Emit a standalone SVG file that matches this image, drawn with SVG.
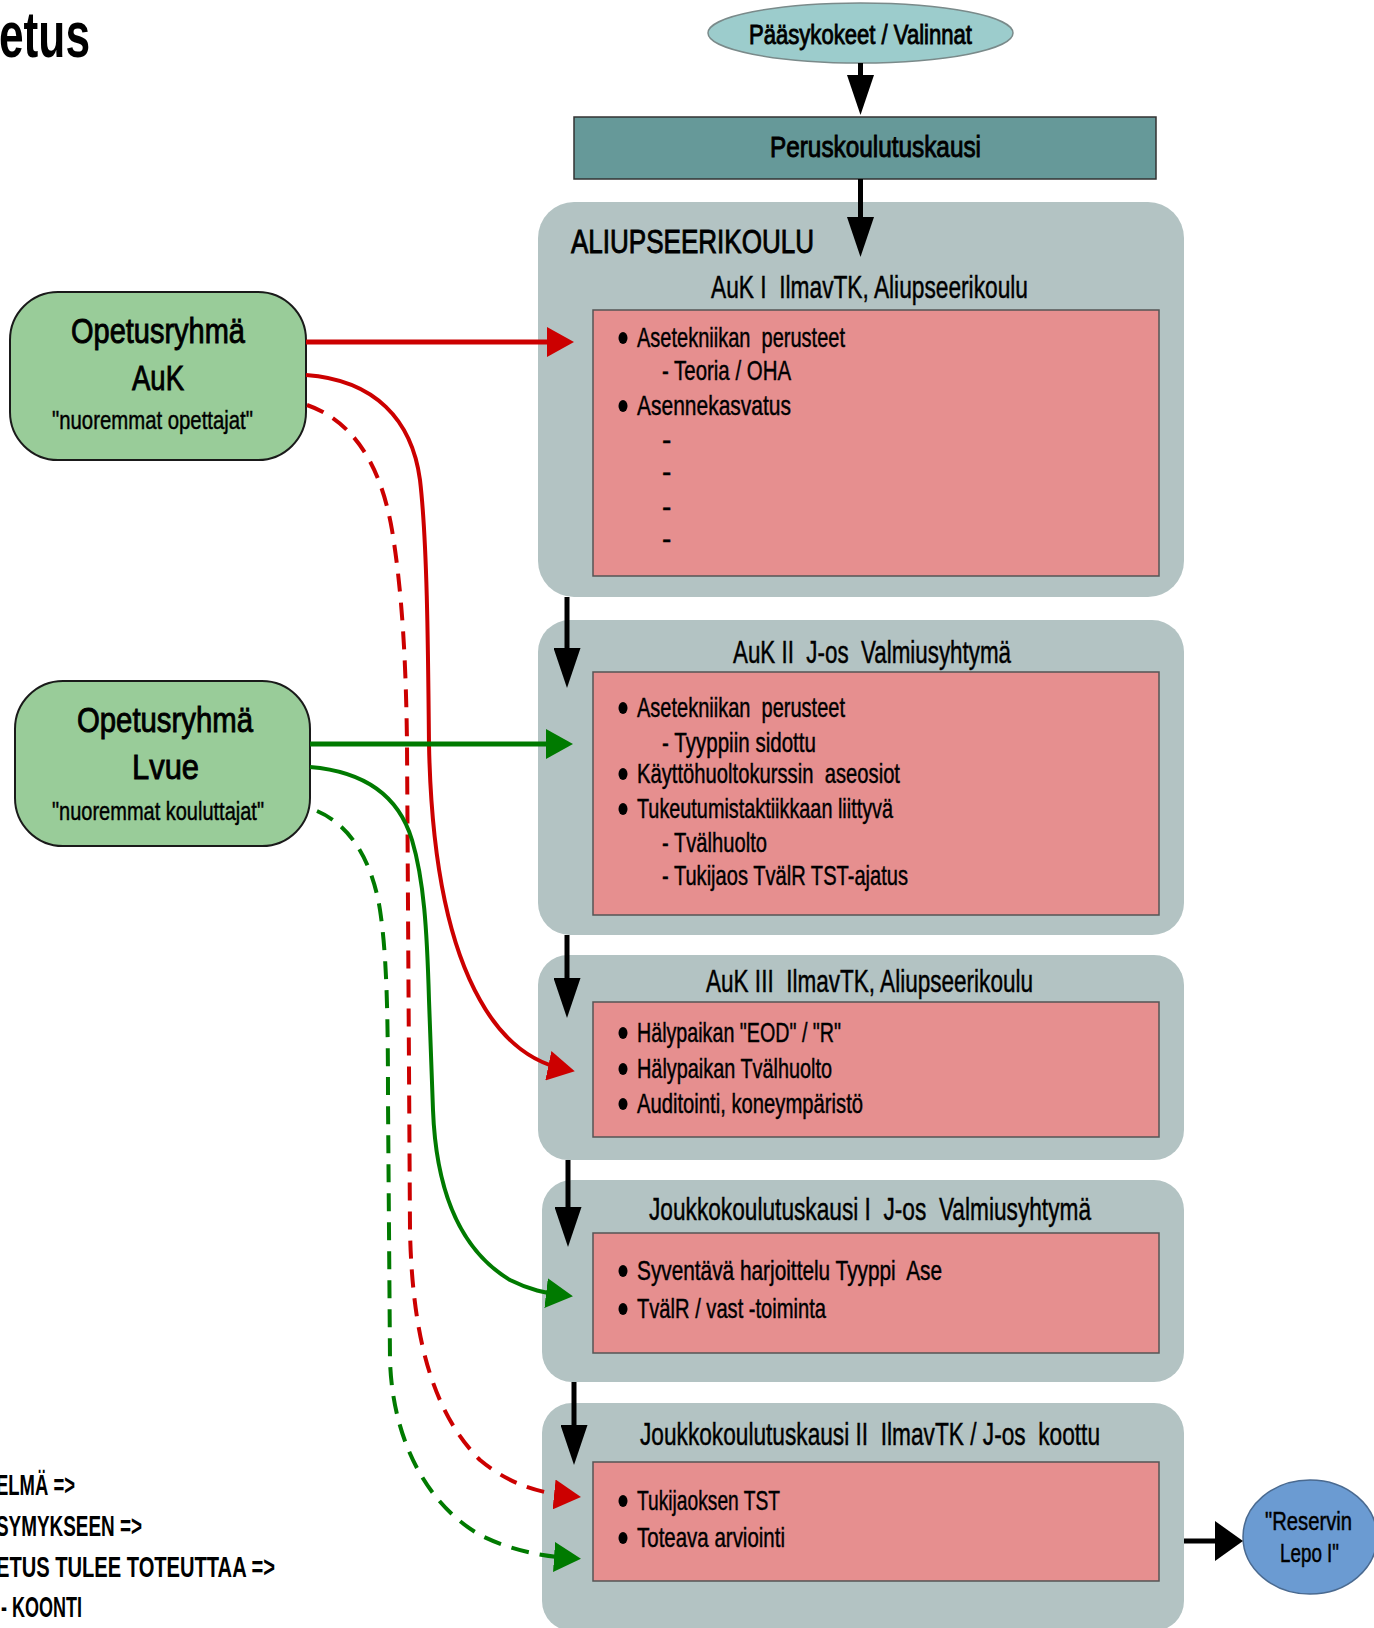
<svg xmlns="http://www.w3.org/2000/svg" width="1374" height="1628" viewBox="0 0 1374 1628">
  <style>
    text { font-family: "Liberation Sans Narrow", "Liberation Sans", Arial, sans-serif; fill: #000; stroke: #000; stroke-width: 0.45; }
    .t-head { font-size: 31px; }
    .t-item { font-size: 28px; }
    .t-big { font-size: 33px; }
    .t-grp { font-size: 35px; }
    .t-sub { font-size: 26px; }
    .t-bold { font-weight: bold; stroke-width: 0; }
    .t-heavy { stroke-width: 0.9; }
    .stage { fill: #b3c3c3; }
    .content { fill: #e68f8f; stroke: #555; stroke-width: 1.5; }
    .group { fill: #99cc99; stroke: #1a1a1a; stroke-width: 2; }
    .dot { fill: #000; }
    .flow { fill: none; stroke: #000; stroke-width: 5; }
    .red { fill: none; stroke: #cc0000; }
    .green { fill: none; stroke: #007a00; }
    .solid { stroke-width: 5; }
    .curve { stroke-width: 4; }
    .dash { stroke-width: 4; stroke-dasharray: 18 11; }
  </style>
  <defs>
    <marker id="head-black" viewBox="0 0 40 27" refX="30" refY="13.5" markerWidth="40" markerHeight="27" markerUnits="userSpaceOnUse" orient="auto">
      <path d="M0,0 L40,13.5 L0,27 z" fill="#000"/>
    </marker>
    <marker id="head-black-wide" viewBox="0 0 28 40" refX="16" refY="20" markerWidth="28" markerHeight="40" markerUnits="userSpaceOnUse" orient="auto">
      <path d="M0,0 L28,20 L0,40 z" fill="#000"/>
    </marker>
    <marker id="head-red" viewBox="0 0 27 30" refX="16" refY="15" markerWidth="27" markerHeight="30" markerUnits="userSpaceOnUse" orient="auto">
      <path d="M0,0 L27,15 L0,30 z" fill="#cc0000"/>
    </marker>
    <marker id="head-green" viewBox="0 0 27 30" refX="16" refY="15" markerWidth="27" markerHeight="30" markerUnits="userSpaceOnUse" orient="auto">
      <path d="M0,0 L27,15 L0,30 z" fill="#007a00"/>
    </marker>
  </defs>

  <!-- page title fragment -->
  <text class="t-bold" x="-1" y="57" font-size="64" textLength="91" lengthAdjust="spacingAndGlyphs">etus</text>

  <!-- entry -->
  <g id="paasykokeet">
    <ellipse cx="860.5" cy="33" rx="152.5" ry="30" fill="#9ccccc" stroke="#7a8a8a" stroke-width="1.5"/>
    <text class="t-heavy" x="749" y="44" font-size="27" textLength="223" lengthAdjust="spacingAndGlyphs">Pääsykokeet / Valinnat</text>
  </g>

  <g id="peruskoulutuskausi">
    <rect x="574" y="117" width="582" height="62" fill="#669999" stroke="#333" stroke-width="1.5"/>
    <text class="t-heavy" x="770" y="157" font-size="29" textLength="211" lengthAdjust="spacingAndGlyphs">Peruskoulutuskausi</text>
  </g>

  <!-- stage 1 -->
  <g id="auk1">
    <rect class="stage" x="538" y="202" width="646" height="395" rx="36" ry="36"/>
    <text class="t-big t-heavy" x="571" y="253" textLength="243" lengthAdjust="spacingAndGlyphs">ALIUPSEERIKOULU</text>
    <text class="t-head" x="711" y="298" textLength="317" lengthAdjust="spacingAndGlyphs" xml:space="preserve">AuK I  IlmavTK, Aliupseerikoulu</text>
    <rect class="content" x="593" y="310" width="566" height="266"/>
    <ellipse class="dot" cx="623" cy="338" rx="4.5" ry="6"/>
    <text class="t-item" x="637" y="347" textLength="208" lengthAdjust="spacingAndGlyphs" xml:space="preserve">Asetekniikan  perusteet</text>
    <text class="t-item" x="662" y="380" textLength="129" lengthAdjust="spacingAndGlyphs">- Teoria / OHA</text>
    <ellipse class="dot" cx="623" cy="406" rx="4.5" ry="6"/>
    <text class="t-item" x="637" y="415" textLength="154" lengthAdjust="spacingAndGlyphs">Asennekasvatus</text>
    <text class="t-item" x="662" y="449">-</text>
    <text class="t-item" x="662" y="481">-</text>
    <text class="t-item" x="662" y="516">-</text>
    <text class="t-item" x="662" y="548">-</text>
  </g>

  <!-- stage 2 -->
  <g id="auk2">
    <rect class="stage" x="538" y="620" width="646" height="315" rx="32" ry="32"/>
    <text class="t-head" x="733" y="663" textLength="278" lengthAdjust="spacingAndGlyphs" xml:space="preserve">AuK II  J-os  Valmiusyhtymä</text>
    <rect class="content" x="593" y="672" width="566" height="243"/>
    <ellipse class="dot" cx="623" cy="708" rx="4.5" ry="6"/>
    <text class="t-item" x="637" y="717" textLength="208" lengthAdjust="spacingAndGlyphs" xml:space="preserve">Asetekniikan  perusteet</text>
    <text class="t-item" x="662" y="752" textLength="154" lengthAdjust="spacingAndGlyphs">- Tyyppiin sidottu</text>
    <ellipse class="dot" cx="623" cy="774" rx="4.5" ry="6"/>
    <text class="t-item" x="637" y="783" textLength="263" lengthAdjust="spacingAndGlyphs" xml:space="preserve">Käyttöhuoltokurssin  aseosiot</text>
    <ellipse class="dot" cx="623" cy="809" rx="4.5" ry="6"/>
    <text class="t-item" x="637" y="818" textLength="256" lengthAdjust="spacingAndGlyphs">Tukeutumistaktiikkaan liittyvä</text>
    <text class="t-item" x="662" y="852" textLength="105" lengthAdjust="spacingAndGlyphs">- Tvälhuolto</text>
    <text class="t-item" x="662" y="885" textLength="246" lengthAdjust="spacingAndGlyphs">- Tukijaos TvälR TST-ajatus</text>
  </g>

  <!-- stage 3 -->
  <g id="auk3">
    <rect class="stage" x="538" y="955" width="646" height="205" rx="30" ry="30"/>
    <text class="t-head" x="706" y="992" textLength="327" lengthAdjust="spacingAndGlyphs" xml:space="preserve">AuK III  IlmavTK, Aliupseerikoulu</text>
    <rect class="content" x="593" y="1002" width="566" height="135"/>
    <ellipse class="dot" cx="623" cy="1033" rx="4.5" ry="6"/>
    <text class="t-item" x="637" y="1042" textLength="204" lengthAdjust="spacingAndGlyphs">Hälypaikan "EOD" / "R"</text>
    <ellipse class="dot" cx="623" cy="1069" rx="4.5" ry="6"/>
    <text class="t-item" x="637" y="1078" textLength="195" lengthAdjust="spacingAndGlyphs">Hälypaikan Tvälhuolto</text>
    <ellipse class="dot" cx="623" cy="1104" rx="4.5" ry="6"/>
    <text class="t-item" x="637" y="1113" textLength="226" lengthAdjust="spacingAndGlyphs">Auditointi, koneympäristö</text>
  </g>

  <!-- stage 4 -->
  <g id="jkk1">
    <rect class="stage" x="542" y="1180" width="642" height="202" rx="30" ry="30"/>
    <text class="t-head" x="649" y="1220" textLength="442" lengthAdjust="spacingAndGlyphs" xml:space="preserve">Joukkokoulutuskausi I  J-os  Valmiusyhtymä</text>
    <rect class="content" x="593" y="1233" width="566" height="120"/>
    <ellipse class="dot" cx="623" cy="1271" rx="4.5" ry="6"/>
    <text class="t-item" x="637" y="1280" textLength="305" lengthAdjust="spacingAndGlyphs" xml:space="preserve">Syventävä harjoittelu Tyyppi  Ase</text>
    <ellipse class="dot" cx="623" cy="1309" rx="4.5" ry="6"/>
    <text class="t-item" x="637" y="1318" textLength="189" lengthAdjust="spacingAndGlyphs">TvälR / vast -toiminta</text>
  </g>

  <!-- stage 5 -->
  <g id="jkk2">
    <rect class="stage" x="542" y="1403" width="642" height="228" rx="30" ry="30"/>
    <text class="t-head" x="640" y="1445" textLength="460" lengthAdjust="spacingAndGlyphs" xml:space="preserve">Joukkokoulutuskausi II  IlmavTK / J-os  koottu</text>
    <rect class="content" x="593" y="1462" width="566" height="119"/>
    <ellipse class="dot" cx="623" cy="1501" rx="4.5" ry="6"/>
    <text class="t-item" x="637" y="1510" textLength="143" lengthAdjust="spacingAndGlyphs">Tukijaoksen TST</text>
    <ellipse class="dot" cx="623" cy="1538" rx="4.5" ry="6"/>
    <text class="t-item" x="637" y="1547" textLength="148" lengthAdjust="spacingAndGlyphs">Toteava arviointi</text>
  </g>

  <!-- exit -->
  <g id="reservin-lepo">
    <ellipse cx="1310" cy="1537" rx="67" ry="57" fill="#6b9bd2" stroke="#4a6a90" stroke-width="1.5"/>
    <text x="1265" y="1530" font-size="25" textLength="87" lengthAdjust="spacingAndGlyphs">"Reservin</text>
    <text x="1280" y="1562" font-size="25" textLength="59" lengthAdjust="spacingAndGlyphs">Lepo I"</text>
  </g>

  <!-- teaching groups -->
  <g id="ryhma-auk">
    <rect class="group" x="10" y="292" width="296" height="168" rx="48" ry="48"/>
    <text class="t-grp t-heavy" x="71" y="343" textLength="174" lengthAdjust="spacingAndGlyphs">Opetusryhmä</text>
    <text class="t-grp t-heavy" x="132" y="390" textLength="52" lengthAdjust="spacingAndGlyphs">AuK</text>
    <text class="t-sub" x="52" y="429" textLength="201" lengthAdjust="spacingAndGlyphs">"nuoremmat opettajat"</text>
  </g>
  <g id="ryhma-lvue">
    <rect class="group" x="15" y="681" width="295" height="165" rx="48" ry="48"/>
    <text class="t-grp t-heavy" x="77" y="732" textLength="176" lengthAdjust="spacingAndGlyphs">Opetusryhmä</text>
    <text class="t-grp t-heavy" x="132" y="779" textLength="67" lengthAdjust="spacingAndGlyphs">Lvue</text>
    <text class="t-sub" x="52" y="820" textLength="212" lengthAdjust="spacingAndGlyphs">"nuoremmat kouluttajat"</text>
  </g>

  <!-- notes, lower left -->
  <g id="notes">
    <text class="t-bold" x="-4" y="1495" font-size="30" textLength="79" lengthAdjust="spacingAndGlyphs">ELMÄ =&gt;</text>
    <text class="t-bold" x="-4" y="1536" font-size="30" textLength="146" lengthAdjust="spacingAndGlyphs">SYMYKSEEN =&gt;</text>
    <text class="t-bold" x="-4" y="1577" font-size="30" textLength="279" lengthAdjust="spacingAndGlyphs">ETUS TULEE TOTEUTTAA =&gt;</text>
    <text class="t-bold" x="1" y="1617" font-size="30" textLength="81" lengthAdjust="spacingAndGlyphs">- KOONTI</text>
  </g>

  <g id="connectors">
    <!-- main flow -->
    <path class="flow" d="M860.5,63 L860.5,105" marker-end="url(#head-black)"/>
    <path class="flow" d="M860.5,179 L860.5,247" marker-end="url(#head-black)"/>
    <path class="flow" d="M567,597 L567,678" marker-end="url(#head-black)"/>
    <path class="flow" d="M567,935 L567,1008" marker-end="url(#head-black)"/>
    <path class="flow" d="M568,1160 L568,1237" marker-end="url(#head-black)"/>
    <path class="flow" d="M574,1382 L574,1455" marker-end="url(#head-black)"/>
    <path class="flow" d="M1184,1541 L1231,1541" stroke-width="9" marker-end="url(#head-black-wide)"/>

    <!-- AuK group -->
    <path class="red solid" d="M306,342 L563,342" marker-end="url(#head-red)"/>
    <path class="red curve" d="M306,375 C375,380 412,420 420,480 C427,540 428,640 429,744 C431,850 446,940 480,1000 C505,1045 535,1063 564,1069" marker-end="url(#head-red)"/>
    <path class="red dash" d="M307,405 C350,420 380,460 392,530 C402,590 406,660 407,744 L410,1230 C412,1330 430,1410 480,1460 C510,1485 540,1493 570,1496" marker-end="url(#head-red)"/>

    <!-- Lvue group -->
    <path class="green solid" d="M310,744 L562,744" marker-end="url(#head-green)"/>
    <path class="green curve" d="M310,767 C370,772 400,800 412,840 C424,880 427,930 429,1000 L433,1110 C436,1190 460,1250 510,1280 C530,1290 545,1293 562,1295" marker-end="url(#head-green)"/>
    <path class="green dash" d="M317,811 C350,825 372,860 380,910 C386,950 388,1000 388,1100 L390,1360 C392,1430 420,1500 480,1535 C510,1550 540,1556 570,1558" marker-end="url(#head-green)"/>
  </g>
</svg>
